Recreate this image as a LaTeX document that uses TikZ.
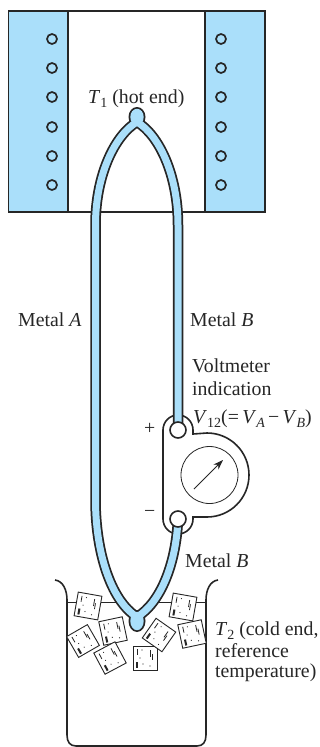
\documentclass[tikz,border=0pt]{standalone}
\usepackage{fontspec}
\setmainfont{Liberation Serif}
\usetikzlibrary{arrows.meta}
\definecolor{hotblue}{HTML}{AADFFA}
\definecolor{ink}{HTML}{262626}
\newcommand{\lowsub}[1]{\raisebox{-0.22em}{\fontsize{14}{15}\selectfont #1}}
\tikzset{
  x=1pt,y=-1pt,
  outline/.style={draw=ink,line width=1.6pt},
  furnace/.style={outline,fill=hotblue},
  coil/.style={draw=ink,line width=1.7pt,circle,minimum size=10pt,inner sep=0pt},
  wireout/.style={draw=ink,line width=10.5pt},
  wirein/.style={draw=hotblue,line width=7pt},
  label/.style={font=\fontsize{19.8}{22}\selectfont,text=ink,inner sep=0pt,anchor=base west},
  terminal/.style={draw=ink,line width=1.6pt,fill=white,circle,minimum size=16pt,inner sep=0pt},
  pics/icecube/.style={code={
    \draw[draw=ink,line width=.9pt,fill=white] (-12,-12) rectangle (12,12);
    \fill[ink] (-9,4) rectangle (-7,10);
    \fill[ink] (-8,-9) rectangle (-7.2,-3);
    \fill[ink] (5,-8) rectangle (5.8,-1);
    \fill[ink] (6.5,-4) rectangle (7.3,2);
    \fill[ink] (-3,-8) circle (.6);
    \fill[ink] (-2,6) circle (.6);
    \fill[ink] (5,8) circle (.6);
    \fill[ink] (-5,0) circle (.6);
  }}
}
\begin{document}
\begin{tikzpicture}
\useasboundingbox (0,0) rectangle (320,747);
% furnace
\fill[white] (0,0) rectangle (320,747);
\path[furnace] (8.5,11) rectangle (68,212);
\path[furnace] (205,11) rectangle (265,212);
\draw[outline] (68,11) -- (205,11) (68,212) -- (205,212);
\foreach \cy [count=\i] in {39,68,97,127,156,185}{
  \node[coil] (cl\i) at (52,\cy) {};
  \node[coil] (cr\i) at (221,\cy) {};
}
% voltmeter body
\path[outline,fill=white] (193,434) -- (193,430)
  arc[start angle=0,end angle=-180,radius=15]
  -- (163,519)
  arc[start angle=180,end angle=0,radius=15]
  -- (193,517)
  -- (207,517) arc[start angle=90,end angle=-90,radius=42] -- cycle;
\node[draw=ink,line width=.8pt,circle,minimum size=57pt,inner sep=0pt] (dial) at (209.5,475) {};
\coordinate (needleA) at (194,489);
\coordinate (needleB) at (223,460);
\draw[ink,line width=.8pt,-{Stealth[length=10pt,width=7pt]}] (needleA) -- (needleB);
% beaker
\draw[outline] (55,580) .. controls (63,581) and (67,590) .. (67,600) -- (67,735)
  .. controls (67,742) and (70,746) .. (76,746) -- (197,746)
  .. controls (203,746) and (206,742) .. (206,735) -- (206,600)
  .. controls (206,590) and (210,581) .. (218,580);
\draw[ink,line width=.9pt] (67,602) -- (122,602) (152,602) -- (206,602);
% ice
\pic[rotate=-10] (ice1) at (88,606) {icecube};
\pic[rotate=30] (ice2) at (83,641) {icecube};
\pic[rotate=12] (ice3) at (113,631) {icecube};
\pic[rotate=28] (ice4) at (110,658) {icecube};
\pic (ice5) at (145,658) {icecube};
\pic[rotate=-35] (ice6) at (159,635) {icecube};
\pic[rotate=12] (ice7) at (192,634) {icecube};
\pic[rotate=-10] (ice8) at (183,607) {icecube};
% thermocouple wires
\coordinate (hot) at (137,122);
\coordinate (cold) at (137,617);
\node[terminal,draw=none,fill=none] (termtop) at (178,430) {};
\node[terminal,draw=none,fill=none] (termbot) at (178,519) {};
\def\wires{
  (hot) .. controls (115,135) and (95.5,175) .. (95.5,225)
  -- (95.5,500) .. controls (95.5,550) and (110,600) .. (cold)
  (hot) .. controls (159,135) and (178,175) .. (178,225) -- (termtop.center)
  (termbot.center) .. controls (176,565) and (160,603) .. (cold)
}
\path[wireout] \wires;
\fill[ink] (137,117) ellipse (8.5 and 10);
\fill[ink] (137,621) ellipse (8.5 and 11);
\path[wirein] \wires;
\fill[hotblue] (137,117) ellipse (6.7 and 8.2);
\fill[hotblue] (137,621) ellipse (6.7 and 9.2);
\node[terminal] (t1) at (178,430) {};
\node[terminal] (t2) at (178,519) {};
% labels
\node[label] (hotlab) at (88,103) {\textit{T}\lowsub{1} (hot end)};
\node[label] (mA) at (18,326) {Metal \textit{A}};
\node[label] (mB) at (190,326) {Metal \textit{B}};
\node[label] (vm1) at (192,372) {Voltmeter};
\node[label] (vm2) at (192,395) {indication};
\node[label] (vm3) at (193,423) {\textit{V}\lowsub{12}(=\,\textit{V}\lowsub{\textit{A}}\,−\,\textit{V}\lowsub{\textit{B}})};
\node[label] (plus) at (144,434) {+};
\node[label] (minus) at (144,517) {−};
\node[label] (mB2) at (185,567) {Metal \textit{B}};
\node[label] (t2lab) at (215,635) {\textit{T}\lowsub{2} (cold end,};
\node[label] (ref) at (215,657) {reference};
\node[label] (temp) at (215,677) {temperature)};
\end{tikzpicture}
\end{document}
